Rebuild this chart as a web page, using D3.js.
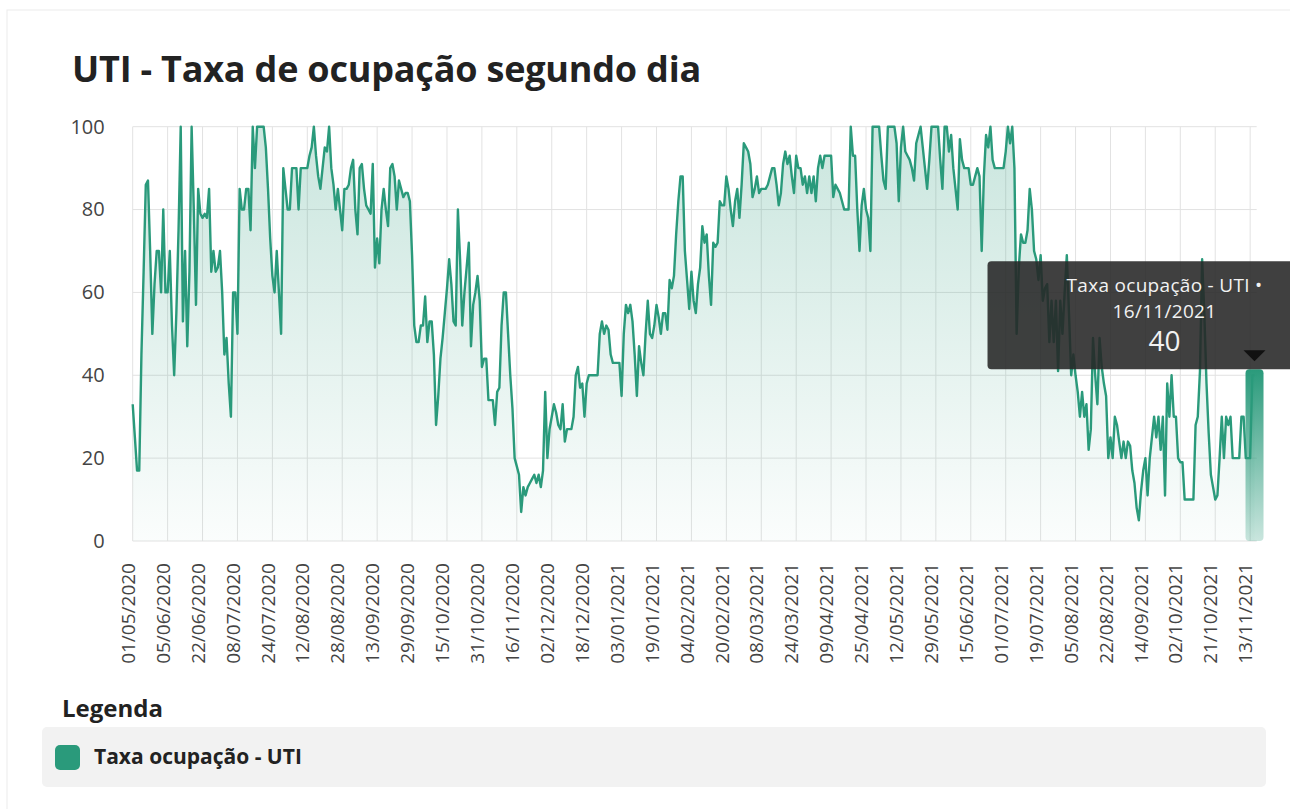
<!DOCTYPE html>
<html>
<head>
<meta charset="utf-8">
<script src="https://cdn.jsdelivr.net/npm/d3@7"></script>
<style>
  body { margin: 0; background: #fff; font-family: "Open Sans", sans-serif; }
  svg { display: block; }
</style>
</head>
<body>
<svg id="chart" width="1290" height="809"></svg>
<script>
let width = 1290;
let height = 809;
let margins = {top: 126.7, bottom: 268, left: 132.7, right: 33.3};

const chartTitle = "UTI - Taxa de ocupação segundo dia";
const seriesName = "Taxa ocupação - UTI";
const lastDate = "16/11/2021";
const yTicks = [0, 20, 40, 60, 80, 100];
const tickEvery = 16;

const tickLabels = ["01/05/2020", "05/06/2020", "22/06/2020", "08/07/2020", "24/07/2020",
	"12/08/2020", "28/08/2020", "13/09/2020", "29/09/2020", "15/10/2020", "31/10/2020",
	"16/11/2020", "02/12/2020", "18/12/2020", "03/01/2021", "19/01/2021", "04/02/2021",
	"20/02/2021", "08/03/2021", "24/03/2021", "09/04/2021", "25/04/2021", "12/05/2021",
	"29/05/2021", "15/06/2021", "01/07/2021", "19/07/2021", "05/08/2021", "22/08/2021",
	"14/09/2021", "02/10/2021", "21/10/2021", "13/11/2021"];

// daily occupancy (%), one row per 16 days between tick labels
const values = [
	33, 25, 17, 17, 45, 65, 86, 87, 70, 50, 62, 70, 70, 60, 80, 60,
	60, 70, 52, 40, 55, 75, 100, 53, 70, 47, 65, 100, 80, 57, 85, 79,
	78, 79, 78, 85, 65, 70, 65, 66, 70, 60, 45, 49, 38, 30, 60, 60,
	50, 85, 80, 80, 85, 85, 75, 100, 90, 100, 100, 100, 100, 95, 85, 73,
	64, 60, 70, 60, 50, 90, 85, 80, 80, 90, 90, 90, 80, 90, 90, 90,
	90, 93, 95, 100, 93, 88, 85, 90, 95, 94, 100, 90, 86, 80, 85, 80,
	75, 85, 85, 86, 90, 92, 80, 74, 90, 91, 85, 81, 80, 79, 91, 66,
	73, 67, 80, 85, 80, 76, 90, 91, 88, 80, 87, 85, 83, 84, 84, 82,
	69, 52, 48, 48, 52, 52, 59, 48, 53, 53, 45, 28, 35, 44, 49, 55,
	61, 68, 62, 53, 52, 80, 68, 52, 60, 66, 72, 47, 57, 60, 64, 58,
	42, 44, 44, 34, 34, 34, 28, 36, 37, 52, 60, 60, 50, 40, 32, 20,
	18, 16, 7, 13, 11, 13, 14, 15, 16, 14, 16, 13, 17, 36, 20, 27,
	30, 33, 31, 28, 27, 33, 24, 27, 27, 27, 30, 40, 42, 37, 38, 30,
	38, 40, 40, 40, 40, 40, 50, 53, 50, 52, 51, 45, 43, 43, 43, 43,
	35, 50, 57, 55, 57, 53, 45, 35, 47, 43, 40, 50, 58, 50, 49, 52,
	57, 54, 50, 55, 55, 51, 63, 61, 64, 74, 82, 88, 88, 70, 63, 56,
	65, 58, 55, 62, 66, 76, 72, 74, 64, 57, 72, 71, 72, 82, 81, 81,
	88, 85, 80, 76, 82, 85, 78, 86, 96, 95, 94, 91, 83, 85, 88, 84,
	85, 85, 85, 86, 88, 90, 90, 86, 81, 84, 91, 94, 91, 93, 88, 84,
	93, 90, 90, 86, 88, 84, 88, 84, 88, 82, 90, 93, 90, 93, 93, 93,
	93, 83, 86, 85, 84, 82, 80, 80, 80, 100, 93, 93, 80, 70, 81, 85,
	80, 78, 70, 100, 100, 100, 100, 93, 87, 85, 100, 100, 100, 100, 96, 82,
	95, 100, 94, 93, 92, 90, 87, 96, 98, 100, 95, 90, 85, 92, 100, 100,
	100, 100, 92, 85, 100, 100, 94, 98, 90, 85, 80, 97, 92, 90, 90, 90,
	86, 86, 88, 90, 88, 70, 88, 98, 95, 100, 92, 90, 90, 90, 90, 90,
	94, 100, 96, 100, 90, 50, 66, 74, 72, 72, 75, 85, 80, 70, 68, 63,
	69, 58, 61, 62, 48, 58, 48, 58, 41, 58, 50, 60, 69, 55, 40, 45,
	40, 36, 30, 36, 30, 33, 22, 27, 49, 40, 33, 49, 42, 38, 35, 20,
	25, 20, 30, 28, 24, 20, 24, 20, 24, 23, 17, 14, 8, 5, 12, 17,
	20, 11, 20, 25, 30, 25, 30, 22, 30, 11, 38, 30, 40, 30, 30, 20,
	19, 19, 10, 10, 10, 10, 10, 28, 30, 41, 68, 55, 38, 26, 16, 13,
	10, 11, 20, 30, 20, 30, 28, 30, 20, 20, 20, 20, 30, 30, 20, 20,
	20, 40, 40
];

const lineColor = "#2a9a7b";

function main() {
	const svg = d3.select("#chart");
	draw_frame(svg);
	const scales = make_scales();
	draw_grid(svg, scales);
	draw_series(svg, scales);
	draw_axes(svg, scales);
	draw_tooltip(svg, scales);
	draw_legend(svg);
}

function make_scales() {
	return {
		x: d3.scaleLinear()
			.domain([0, values.length])
			.range([margins.left, width - margins.right]),
		y: d3.scaleLinear()
			.domain([0, 100])
			.range([height - margins.bottom, margins.top])
	};
}

function draw_frame(svg) {
	svg.append("rect")
		.attr("x", 7).attr("y", 10)
		.attr("width", width + 20).attr("height", height + 20)
		.attr("fill", "#fff")
		.attr("stroke", "#ececec");

	svg.append("text")
		.attr("x", 72).attr("y", 82)
		.attr("font-size", 36)
		.attr("font-weight", 700)
		.attr("letter-spacing", -0.2)
		.attr("fill", "#222")
		.text(chartTitle);
}

function draw_grid(svg, scales) {
	const g = svg.append("g");
	const xTicks = d3.range(0, tickLabels.length).map(i => i * tickEvery);
	g.selectAll("line.v")
		.data(xTicks).enter()
		.append("line")
		.attr("x1", d => scales.x(d)).attr("x2", d => scales.x(d))
		.attr("y1", scales.y(100)).attr("y2", scales.y(0))
		.attr("stroke", "#e2e2e2");
	g.selectAll("line.h")
		.data(yTicks).enter()
		.append("line")
		.attr("x1", scales.x.range()[0]).attr("x2", scales.x.range()[1])
		.attr("y1", d => scales.y(d)).attr("y2", d => scales.y(d))
		.attr("stroke", "#e2e2e2");
}

function draw_series(svg, scales) {
	const defs = svg.append("defs");
	const grad = defs.append("linearGradient")
		.attr("id", "areaGrad")
		.attr("x1", 0).attr("y1", 0).attr("x2", 0).attr("y2", 1);
	grad.append("stop").attr("offset", "0%").attr("stop-color", lineColor).attr("stop-opacity", 0.25);
	grad.append("stop").attr("offset", "100%").attr("stop-color", lineColor).attr("stop-opacity", 0.02);

	const area = d3.area()
		.x((d, i) => scales.x(i))
		.y0(scales.y(0))
		.y1(d => scales.y(d));
	svg.append("path")
		.datum(values)
		.attr("d", area)
		.attr("fill", "url(#areaGrad)");

	const line = d3.line()
		.x((d, i) => scales.x(i))
		.y(d => scales.y(d));
	svg.append("path")
		.datum(values)
		.attr("d", line)
		.attr("fill", "none")
		.attr("stroke", lineColor)
		.attr("stroke-width", 2.4)
		.attr("stroke-linejoin", "round");
}

function draw_axes(svg, scales) {
	const xTicks = d3.range(0, tickLabels.length).map(i => i * tickEvery);
	const xAxis = d3.axisBottom(scales.x)
		.tickValues(xTicks)
		.tickFormat((d, i) => tickLabels[i])
		.tickSize(0);
	const gx = svg.append("g")
		.attr("transform", `translate(0, ${scales.y(0)})`)
		.call(xAxis);
	gx.select(".domain").remove();
	gx.selectAll("text")
		.attr("font-family", "Open Sans")
		.attr("font-size", 19)
		.attr("fill", "#444")
		.attr("text-anchor", "end")
		.attr("transform", "translate(-5, 0) rotate(-90)")
		.attr("x", -22)
		.attr("y", 0)
		.attr("dy", "0.35em");

	const yAxis = d3.axisLeft(scales.y)
		.tickValues(yTicks)
		.tickSize(0)
		.tickPadding(28);
	const gy = svg.append("g")
		.attr("transform", `translate(${scales.x(0)}, 0)`)
		.call(yAxis);
	gy.select(".domain").remove();
	gy.selectAll("text")
		.attr("font-family", "Open Sans")
		.attr("font-size", 20)
		.attr("fill", "#444");
}

function draw_tooltip(svg, scales) {
	const last = values.length - 1;
	const lx = scales.x(last);
	const ly = scales.y(values[last]);

	const barGrad = svg.select("defs").append("linearGradient")
		.attr("id", "barGrad")
		.attr("x1", 0).attr("y1", 0).attr("x2", 0).attr("y2", 1);
	barGrad.append("stop").attr("offset", "0%").attr("stop-color", lineColor).attr("stop-opacity", 1);
	barGrad.append("stop").attr("offset", "100%").attr("stop-color", lineColor).attr("stop-opacity", 0.25);

	svg.append("rect")
		.attr("x", lx - 9).attr("y", ly - 6)
		.attr("width", 18).attr("height", scales.y(0) - ly + 6)
		.attr("rx", 4)
		.attr("fill", "url(#barGrad)");

	const cx = lx - 90;
	const tip = svg.append("g");
	tip.append("rect")
		.attr("x", cx - 177).attr("y", ly - 114)
		.attr("width", 354).attr("height", 108)
		.attr("rx", 4)
		.attr("fill", "#262626")
		.attr("fill-opacity", 0.88);
	tip.append("path")
		.attr("d", `M${lx - 11},${ly - 25} L${lx + 11},${ly - 25} L${lx},${ly - 14} Z`)
		.attr("fill", "#111");
	tip.append("text")
		.attr("x", cx).attr("y", ly - 83)
		.attr("text-anchor", "middle")
		.attr("font-size", 19)
		.attr("letter-spacing", 0.3)
		.attr("fill", "#f2f2f2")
		.text(seriesName + " •");
	tip.append("text")
		.attr("x", cx).attr("y", ly - 57)
		.attr("text-anchor", "middle")
		.attr("font-size", 19)
		.attr("letter-spacing", 0.3)
		.attr("fill", "#f2f2f2")
		.text(lastDate);
	tip.append("text")
		.attr("x", cx).attr("y", ly - 24)
		.attr("text-anchor", "middle")
		.attr("font-size", 28)
		.attr("fill", "#f2f2f2")
		.text(values[last]);
}

function draw_legend(svg) {
	svg.append("text")
		.attr("x", 62).attr("y", 717)
		.attr("font-size", 24)
		.attr("font-weight", 700)
		.attr("fill", "#222")
		.text("Legenda");
	svg.append("rect")
		.attr("x", 42).attr("y", 727)
		.attr("width", 1224).attr("height", 60)
		.attr("rx", 5)
		.attr("fill", "#f2f2f2");
	svg.append("rect")
		.attr("x", 55).attr("y", 745)
		.attr("width", 25).attr("height", 25)
		.attr("rx", 5)
		.attr("fill", lineColor);
	svg.append("text")
		.attr("x", 94).attr("y", 764)
		.attr("font-size", 21)
		.attr("font-weight", 700)
		.attr("fill", "#222")
		.text(seriesName);
}

main();
</script>
</body>
</html>
